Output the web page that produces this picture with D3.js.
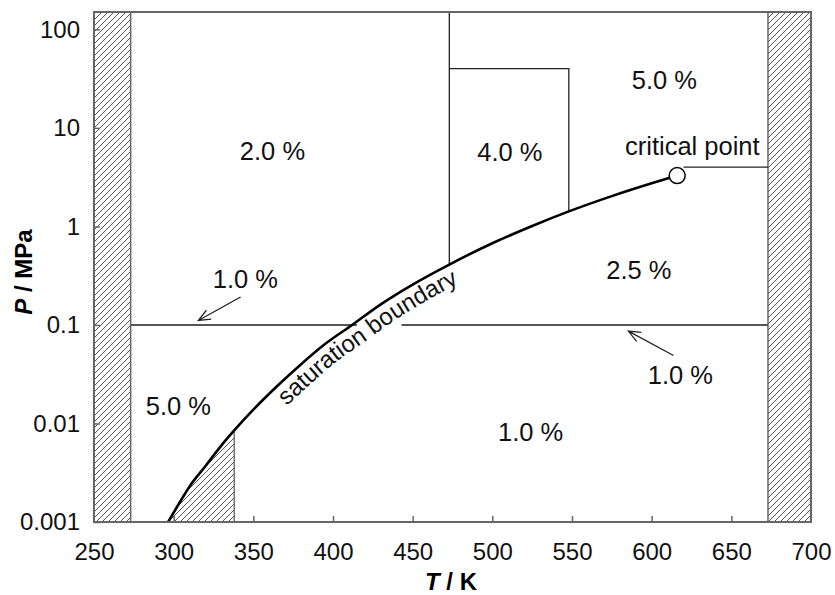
<!DOCTYPE html>
<html>
<head>
<meta charset="utf-8">
<script src="https://cdn.jsdelivr.net/npm/d3@7"></script>
<style>
  body { margin: 0; background: #fff; }
  text { font-family: "Liberation Sans", Arial, sans-serif; }
</style>
</head>
<body>
<div id="app"></div>
<script>
// x ticks (T / K) and y ticks (P / MPa)
const T_TICKS = [250, 300, 350, 400, 450, 500, 550, 600, 650, 700];
const P_TICKS = [0.001, 0.01, 0.1, 1, 10, 100];
const P_LABELS = ['0.001', '0.01', '0.1', '1', '10', '100'];

// saturation boundary [T, P]
const SAT_CURVE = [
  [296.5, 0.001], [305, 0.0017], [310, 0.0023], [320, 0.0037], [330, 0.006],
  [338, 0.0085], [350, 0.0138], [365, 0.024], [380, 0.040], [395, 0.064],
  [412, 0.1], [430, 0.162], [450, 0.257], [473, 0.41], [500, 0.675],
  [525, 1.01], [548, 1.42], [575, 2.03], [600, 2.74], [616, 3.28]
];
const CRITICAL = [616, 3.28];
const SAT_LABEL_T = 361; // where the curved label starts

// region boundaries [T, P] segments
const BOUNDS = [
  [[273, 0.1], [415, 0.1]],
  [[443, 0.1], [673, 0.1]],
  [[473, 0.41], [473, 150]],
  [[473, 40], [548, 40], [548, 1.42]],
  [[620, 4], [673, 4]]
];

// hatched out-of-range areas
const HATCH_LEFT = [250, 273];
const HATCH_RIGHT = [673, 700];
const HATCH_LOW_T = 338;

// uncertainty labels [text, T, P]
const LABELS = [
  ['2.0 %', 362, 4.7],
  ['4.0 %', 511, 4.6],
  ['5.0 %', 608, 24.7],
  ['critical point', 625.5, 5.3],
  ['2.5 %', 592, 0.29],
  ['5.0 %', 303, 0.0122],
  ['1.0 %', 524, 0.0067],
  ['1.0 %', 345, 0.235],
  ['1.0 %', 618, 0.025]
];
// arrows [from, to]
const ARROWS = [
  [[342, 0.192], [315.5, 0.111]],
  [[613.7, 0.049], [585.4, 0.0865]]
];

const width = 835, height = 595;
const margin = {top: 12, right: 24, bottom: 73, left: 94};

const svg = d3.select('#app').append('svg')
  .attr('width', width)
  .attr('height', height);

const x = d3.scaleLinear().domain([250, 700]).range([margin.left, width - margin.right]);
const y = d3.scaleLog().domain([0.001, 150]).range([height - margin.bottom, margin.top]);

const defs = svg.append('defs');
// hatch pattern
defs.append('pattern')
  .attr('id', 'hatch')
  .attr('patternUnits', 'userSpaceOnUse')
  .attr('width', 6).attr('height', 6)
  .append('path')
  .attr('d', 'M-1,1 l2,-2 M0,6 l6,-6 M5,7 l2,-2')
  .style('stroke', '#555')
  .style('stroke-width', 1);

const plot = svg.append('g');

[HATCH_LEFT, HATCH_RIGHT].forEach(r => {
  plot.append('rect')
    .attr('x', x(r[0]))
    .attr('y', y(150))
    .attr('width', x(r[1]) - x(r[0]))
    .attr('height', y(0.001) - y(150))
    .style('fill', 'url(#hatch)')
    .style('stroke', '#666')
    .style('stroke-width', 1.5);
});

const curveLine = d3.line().curve(d3.curveMonotoneX).x(d => x(d[0])).y(d => y(d[1]));

// small hatch below the curve
const lowPoly = SAT_CURVE.filter(d => d[0] <= HATCH_LOW_T);
plot.append('path')
  .attr('d', curveLine(lowPoly) + `L${x(HATCH_LOW_T)},${y(0.001)}Z`)
  .style('fill', 'url(#hatch)')
  .style('stroke', '#555')
  .style('stroke-width', 1.2);

// boundaries
const line = d3.line().x(d => x(d[0])).y(d => y(d[1]));
BOUNDS.forEach((b, i) => {
  plot.append('path')
    .attr('d', line(b))
    .style('fill', 'none')
    .style('stroke', i < 2 ? '#555' : '#222')
    .style('stroke-width', i < 2 ? 2 : 1.3);
});

// saturation curve
const satPath = plot.append('path')
  .attr('d', curveLine(SAT_CURVE))
  .style('fill', 'none')
  .style('stroke', '#000')
  .style('stroke-width', 2.6);

plot.append('circle')
  .attr('cx', x(CRITICAL[0]))
  .attr('cy', y(CRITICAL[1]))
  .attr('r', 8)
  .style('fill', '#fff')
  .style('stroke', '#000')
  .style('stroke-width', 1.5);

// curved label: path parallel to the curve, on its lower-right side
const node = satPath.node();
const total = node.getTotalLength();
const off = 21;
const offPts = [];
for (let s = 0; s <= total; s += 2) {
  const p = node.getPointAtLength(s);
  const a = node.getPointAtLength(Math.max(0, s - 1));
  const b = node.getPointAtLength(Math.min(total, s + 1));
  const len = Math.hypot(b.x - a.x, b.y - a.y) || 1;
  const tx = (b.x - a.x) / len, ty = (b.y - a.y) / len;
  if (p.x >= x(SAT_LABEL_T)) offPts.push([p.x - ty * off, p.y + tx * off]);
}
defs.append('path')
  .attr('id', 'satLabelPath')
  .attr('d', d3.line()(offPts));

plot.append('text')
  .style('font-size', '24px')
  .style('fill', '#111')
  .append('textPath')
  .attr('href', '#satLabelPath')
  .text('saturation boundary');

// arrows
ARROWS.forEach(a => {
  const x0 = x(a[0][0]), y0 = y(a[0][1]), x1 = x(a[1][0]), y1 = y(a[1][1]);
  const ang = Math.atan2(y1 - y0, x1 - x0);
  const h = 13, s = 0.4;
  plot.append('path')
    .attr('d', `M${x0},${y0}L${x1},${y1}` +
      `M${x1 - h * Math.cos(ang - s)},${y1 - h * Math.sin(ang - s)}L${x1},${y1}` +
      `L${x1 - h * Math.cos(ang + s)},${y1 - h * Math.sin(ang + s)}`)
    .style('fill', 'none')
    .style('stroke', '#222')
    .style('stroke-width', 1.3);
});

// frame
plot.append('rect')
  .attr('x', margin.left)
  .attr('y', margin.top)
  .attr('width', width - margin.left - margin.right)
  .attr('height', height - margin.top - margin.bottom)
  .style('fill', 'none')
  .style('stroke', '#666')
  .style('stroke-width', 2);

// axes
const xAxis = svg.append('g')
  .attr('transform', `translate(0, ${height - margin.bottom})`)
  .call(d3.axisBottom(x).tickValues(T_TICKS).tickSizeInner(-6).tickSizeOuter(0).tickPadding(21));
const yAxis = svg.append('g')
  .attr('transform', `translate(${margin.left}, 0)`)
  .call(d3.axisLeft(y).tickValues(P_TICKS).tickFormat((d, i) => P_LABELS[i])
    .tickSizeInner(-6).tickSizeOuter(0).tickPadding(14));
[xAxis, yAxis].forEach(a => {
  a.select('.domain').remove();
  a.selectAll('line').style('stroke', '#666').style('stroke-width', 1.5);
  a.selectAll('text')
    .style('font-family', '"Liberation Sans", Arial, sans-serif')
    .style('font-size', '24px')
    .style('fill', '#111');
});
xAxis.selectAll('.tick').filter(d => d === 250 || d === 700).select('line').remove();

// axis titles
const xt = svg.append('text')
  .attr('x', 451)
  .attr('y', 590)
  .attr('text-anchor', 'middle')
  .style('font-size', '24px')
  .style('font-weight', 'bold');
xt.append('tspan').style('font-style', 'italic').text('T');
xt.append('tspan').text(' / K');

const yt = svg.append('text')
  .attr('transform', `translate(32, 272) rotate(-90)`)
  .attr('text-anchor', 'middle')
  .style('font-size', '24px')
  .style('font-weight', 'bold');
yt.append('tspan').style('font-style', 'italic').text('P');
yt.append('tspan').text(' / MPa');

// region labels
plot.selectAll('text.lbl')
  .data(LABELS)
  .join('text')
  .attr('class', 'lbl')
  .attr('x', d => x(d[1]))
  .attr('y', d => y(d[2]))
  .attr('text-anchor', 'middle')
  .style('font-size', '25.5px')
  .style('fill', '#111')
  .text(d => d[0]);
</script>
</body>
</html>
